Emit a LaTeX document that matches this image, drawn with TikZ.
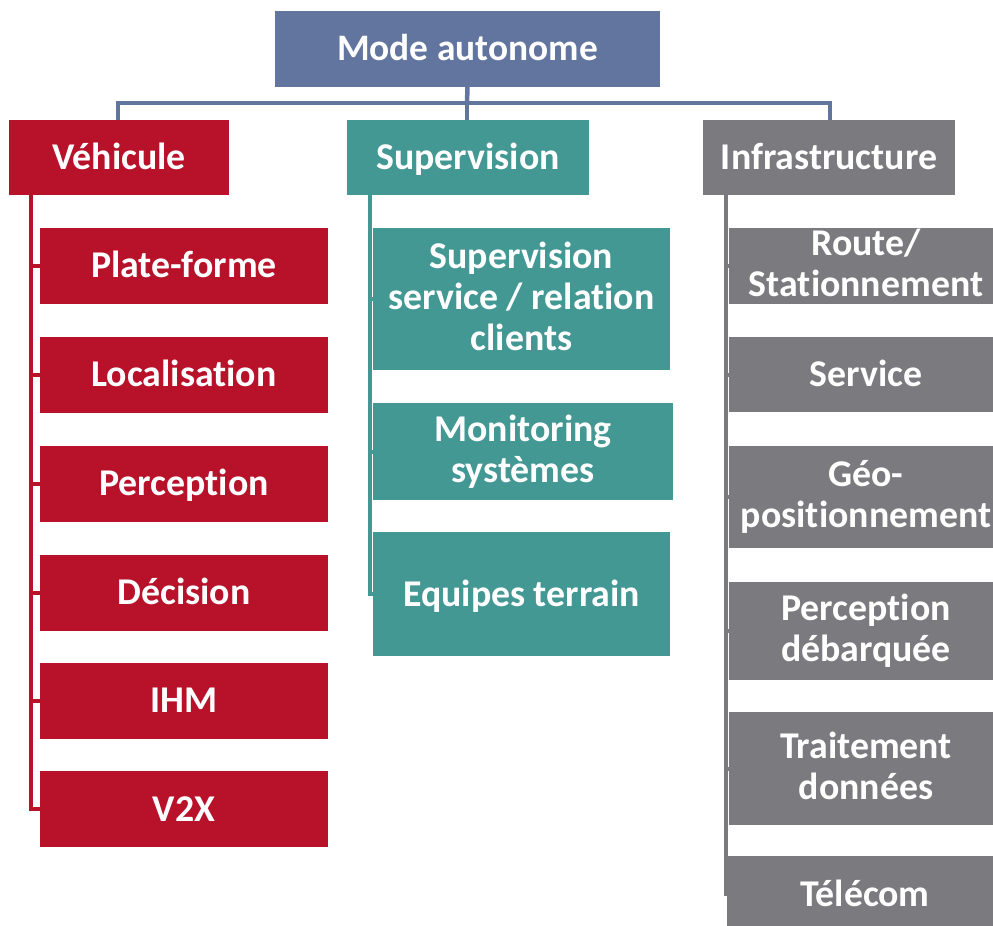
\documentclass[tikz,border=0pt]{standalone}
\usepackage{fontspec}
\setmainfont{Carlito}[Ligatures=NoCommon]
\usetikzlibrary{backgrounds}
\definecolor{topblue}{RGB}{97,117,158}
\definecolor{vred}{RGB}{184,18,43}
\definecolor{steal}{RGB}{67,152,148}
\definecolor{igray}{RGB}{123,122,127}
\newcommand\mystrut{\rule[-6pt]{0pt}{36pt}}
\tikzset{
  box/.style={rectangle, inner sep=0pt, text=white, align=center,
    font=\fontsize{37.8}{41}\selectfont\bfseries,
    execute at begin node=\mystrut},
  vbox/.style={box, fill=vred},
  sbox/.style={box, fill=steal},
  gbox/.style={box, fill=igray},
  conn/.style={line width=4pt},
}
\begin{document}
\begin{tikzpicture}[x=1pt,y=-1pt]
\useasboundingbox (0,0) rectangle (993,926);
% top
\node[box, fill=topblue, minimum width=385pt, minimum height=76pt,
  font=\fontsize{37.4}{41}\selectfont\bfseries] (top) at (467.5,48.5) {Mode autonome};
% categories
\node[vbox, minimum width=220pt, minimum height=75pt] (veh) at (119,157.5) {Véhicule};
\node[sbox, minimum width=242pt, minimum height=75pt] (sup) at (468,157.5) {Supervision};
\node[gbox, minimum width=252pt, minimum height=75pt] (inf) at (829,157.5) {Infrastructure};
% vehicle children
\node[vbox, minimum width=288pt, minimum height=76pt] (v1) at (184,265.5) {Plate-forme};
\node[vbox, minimum width=288pt, minimum height=76pt] (v2) at (184,374.5) {Localisation};
\node[vbox, minimum width=288pt, minimum height=76pt] (v3) at (184,483.5) {Perception};
\node[vbox, minimum width=288pt, minimum height=76pt] (v4) at (184,592.5) {Décision};
\node[vbox, minimum width=288pt, minimum height=76pt] (v5) at (184,700.5) {IHM};
\node[vbox, minimum width=288pt, minimum height=76pt] (v6) at (184,809) {V2X};
% supervision children
\node[sbox, minimum width=297pt, minimum height=142pt] (s1) at (521.5,299) {Supervision\\service / relation\\clients\mystrut};
\node[sbox, minimum width=300pt, minimum height=97pt] (s2) at (523,451.5) {Monitoring\\systèmes\mystrut};
\node[sbox, minimum width=297pt, minimum height=124pt] (s3) at (521.5,594) {Equipes terrain};
% infrastructure children
\node[gbox, minimum width=274pt, minimum height=76pt] (i1) at (866,266) {Route/\\Stationnement\mystrut};
\node[gbox, minimum width=274pt, minimum height=75pt] (i2) at (866,374.5) {Service};
\node[gbox, minimum width=274pt, minimum height=102pt] (i3) at (866,497) {Géo-\\positionnement\mystrut};
\node[gbox, minimum width=274pt, minimum height=98pt] (i4) at (866,631) {Perception\\débarquée\mystrut};
\node[gbox, minimum width=274pt, minimum height=113pt] (i5) at (866,768.5) {Traitement\\données\mystrut};
\node[gbox, minimum width=276pt, minimum height=76pt] (i6) at (865,894) {Télécom};
% trunk coordinates
\coordinate (bus) at (467,103);
\coordinate (vt) at (31,195);
\coordinate (st) at (370,195);
\coordinate (it) at (726,195);
\begin{scope}[on background layer]
\draw[conn, topblue, line width=4.5pt] (top.south) -- (bus);
\draw[conn, topblue, line width=4.5pt] (bus) -| (veh.north -| 118,0);
\draw[conn, topblue, line width=4.5pt] (bus) -| (inf.north -| 830,0);
\draw[conn, topblue, line width=4.5pt] (bus) -- (sup.north -| bus);
\foreach \c in {v1,v2,v3,v4,v5,v6} \draw[conn, vred] (vt) |- (\c.west);
\foreach \c in {s1,s2,s3} \draw[conn, steal] (st) |- (\c.west);
\foreach \c in {i1,i2,i3,i4,i5,i6} \draw[conn, igray] (it) |- (\c.west);
\end{scope}
\end{tikzpicture}
\end{document}
